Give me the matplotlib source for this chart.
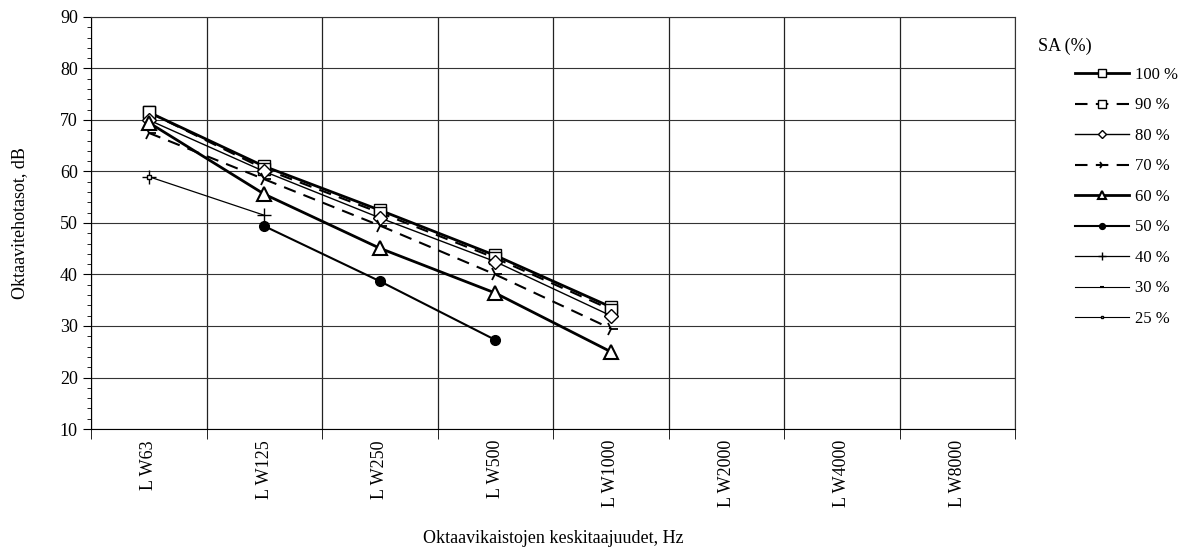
import numpy as np
import matplotlib
matplotlib.use("Agg")
import matplotlib.pyplot as plt
from matplotlib.ticker import MultipleLocator

plt.rcParams["font.family"] = ["Liberation Serif", "DejaVu Serif"]

categories = ["LW63", "LW125", "LW250", "LW500", "LW1000", "LW2000", "LW4000", "LW8000"]
nan = np.nan
sa_100 = [71.5, 61.0, 52.5, 43.7, 33.7, nan, nan, nan]
sa_90 = [71.5, 60.5, 52.0, 43.2, 33.2, nan, nan, nan]
sa_80 = [70.0, 60.0, 51.0, 42.5, 32.0, nan, nan, nan]
sa_70 = [67.5, 58.5, 49.5, 40.0, 29.5, nan, nan, nan]
sa_60 = [69.5, 55.6, 45.1, 36.4, 25.0, nan, nan, nan]
sa_50 = [nan, 49.4, 38.7, 27.3, nan, nan, nan, nan]
sa_40 = [59.0, 51.5, nan, nan, nan, nan, nan, nan]
sa_30 = [nan, 49.0, nan, nan, nan, nan, nan, nan]
sa_25 = [59.0, nan, nan, nan, nan, nan, nan, nan]

series = [
    ("100 %", sa_100, dict(ls="-", lw=2.0, marker="s", ms=9, mfc="white")),
    ("90 %", sa_90, dict(ls=(0, (6, 4)), lw=1.5, marker="s", ms=9, mfc="white")),
    ("80 %", sa_80, dict(ls="-", lw=1.0, marker="D", ms=7, mfc="white")),
    ("70 %", sa_70, dict(ls=(0, (6, 4)), lw=1.5, marker="4", ms=10, mew=1.3)),
    ("60 %", sa_60, dict(ls="-", lw=2.0, marker="^", ms=10, mfc="white", mew=1.5)),
    ("50 %", sa_50, dict(ls="-", lw=1.5, marker="o", ms=7, mfc="black")),
    ("40 %", sa_40, dict(ls="-", lw=0.9, marker="+", ms=10, mew=1.0)),
    ("30 %", sa_30, dict(ls="-", lw=0.8, marker="_", ms=5, mew=1.5)),
    ("25 %", sa_25, dict(ls="-", lw=0.8, marker="s", ms=3, mfc="white")),
]

fig = plt.figure(figsize=(11.8, 5.51), dpi=100)
ax = fig.add_axes([0.0771, 0.2214, 0.7832, 0.7478])

x = np.arange(len(categories))
for label, vals, style in series:
    ax.plot(x, vals, color="black", label=label, **style)

ax.set_xlim(-0.5, len(categories) - 0.5)
ax.set_ylim(10, 90)
ax.yaxis.set_major_locator(MultipleLocator(10))
ax.yaxis.set_minor_locator(MultipleLocator(2))
ax.tick_params(axis="y", which="major", length=6, labelsize=13, direction="out")
ax.tick_params(axis="y", which="minor", length=3, direction="out")

ax.set_xticks(x)
ax.set_xticklabels([c[0] + "\u2009" + c[1:] for c in categories], rotation=90, fontsize=13)
ax.tick_params(axis="x", which="major", length=0, pad=8)
ax.set_xticks(np.arange(len(categories) + 1) - 0.5, minor=True)
ax.tick_params(axis="x", which="minor", length=7, direction="out")

ax.grid(True, axis="y", which="major", color="#333333", lw=0.8)
ax.grid(True, axis="x", which="minor", color="#222222", lw=0.9)
ax.set_axisbelow(True)
for side in ["top", "right"]:
    ax.spines[side].set_color("#333333")
    ax.spines[side].set_linewidth(0.8)

ax.set_ylabel("Oktaavitehotasot, dB", fontsize=13, labelpad=23)
ax.set_xlabel("Oktaavikaistojen keskitaajuudet, Hz", fontsize=13, labelpad=16)

leg = ax.legend(loc="upper left", bbox_to_anchor=(1.049, 0.915), frameon=False,
                fontsize=12, handlelength=3.2, labelspacing=0.87, handletextpad=0.4,
                markerscale=0.6)
fig.text(0.902, 0.915, "SA (%)", fontsize=13, ha="center", va="center")

fig.savefig("out.png", dpi=100)
